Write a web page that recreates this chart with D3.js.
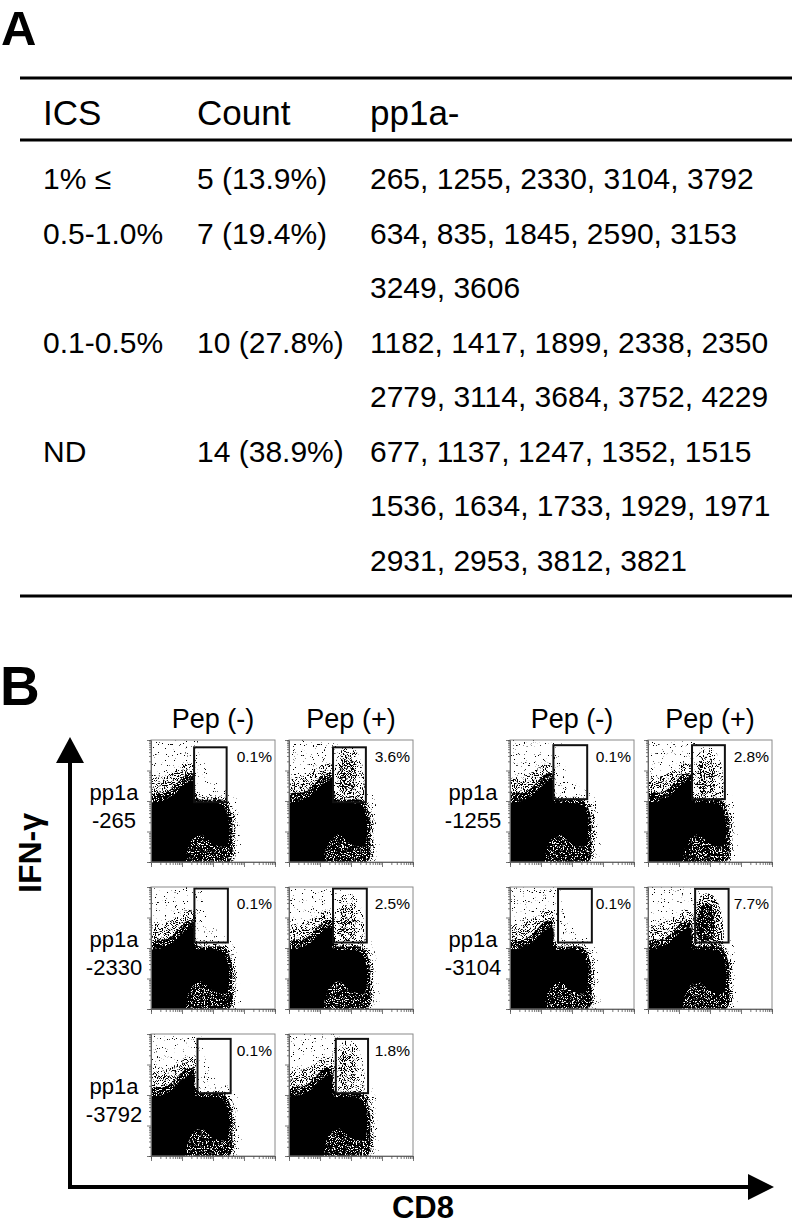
<!DOCTYPE html>
<html>
<head>
<meta charset="utf-8">
<script src="https://cdn.jsdelivr.net/npm/d3@7"></script>
<style>
body { margin: 0; background: #fff; }
svg { display: block; }
text { font-family: "Liberation Sans", Arial, Helvetica, sans-serif; fill: #000; }
</style>
</head>
<body>
<svg id="fig"></svg>
<script>
// ---- panel A : table values ----
var icsGroups = ["1% \u2264", "0.5-1.0%", "0.1-0.5%", "ND"];
var groupCounts = [5, 7, 10, 14];
var groupShares = [13.9, 19.4, 27.8, 38.9];
var groupPeptides = [
    [265, 1255, 2330, 3104, 3792],
    [634, 835, 1845, 2590, 3153, 3249, 3606],
    [1182, 1417, 1899, 2338, 2350, 2779, 3114, 3684, 3752, 4229],
    [677, 1137, 1247, 1352, 1515, 1536, 1634, 1733, 1929, 1971, 2931, 2953, 3812, 3821]
];
var tableHeader = ["ICS", "Count", "pp1a-"];

// ---- panel B : ICS dot plots (axes in log10 decades, 10^0 .. 10^4) ----
var samples = ["265", "1255", "2330", "3104", "3792"];
var pepNegPct = [0.1, 0.1, 0.1, 0.1, 0.1];
var pepPosPct = [3.6, 2.8, 2.5, 7.7, 1.8];
// gates as [x0, x1, y0, y1] in decades
var gateNeg = [[1.39, 2.44, 1.96, 3.76], [1.40, 2.49, 2.06, 3.83], [1.40, 2.48, 2.18, 3.95], [1.55, 2.64, 2.18, 3.94], [1.50, 2.57, 2.06, 3.84]];
var gatePos = [[1.42, 2.48, 1.96, 3.76], [1.42, 2.48, 2.06, 3.83], [1.42, 2.51, 2.18, 3.95], [1.52, 2.60, 2.18, 3.94], [1.51, 2.55, 2.06, 3.84]];
// population outlines [CD8, IFN-g] in decades
var coreOutline = [[0, 0], [0, 1.92], [0.3, 1.98], [0.73, 2.2], [0.95, 2.42], [1.16, 2.6], [1.38, 2.66],
    [1.43, 1.98], [1.91, 1.94], [2.3, 1.87], [2.47, 1.54], [2.52, 1.0], [2.42, 0.52], [2.02, 0.58],
    [1.6, 0.9], [1.28, 0.66], [1.15, 0.26], [1.1, 0]];
var innerHalo = [[0, 0], [0, 2.2], [0.5, 2.3], [0.85, 2.6], [1.1, 2.85], [1.35, 2.9], [1.5, 2.1],
    [2.35, 2.02], [2.58, 1.6], [2.62, 0.8], [2.52, 0]];
var midHalo = [[0, 0], [0, 2.7], [0.4, 2.8], [0.8, 3.0], [1.15, 3.25], [1.42, 3.15], [1.5, 2.2],
    [2.4, 2.1], [2.67, 1.7], [2.72, 0.8], [2.62, 0]];
var outerHalo = [[0, 0], [0, 4], [1.6, 4], [1.7, 3.3], [2.2, 2.5], [2.7, 2.2], [2.85, 1.2], [2.8, 0]];
var ifnCluster = [[1.45, 2.0], [1.45, 2.8], [1.55, 3.4], [1.75, 3.75], [2.05, 3.75], [2.3, 3.4],
    [2.42, 2.8], [2.42, 2.2], [2.25, 1.98]];
var ifnClusterCore = [[1.6, 2.4], [1.6, 3.0], [1.75, 3.4], [1.95, 3.45], [2.1, 3.2], [2.15, 2.7],
    [2.05, 2.3], [1.8, 2.2]];

// where each sample sits: column group and row
var layout = { "265": [0, 0], "2330": [0, 1], "3792": [0, 2], "1255": [1, 0], "3104": [1, 1] };
var plotW = 124, plotH = 122;
var groupLeft = [151, 510], pairGap = 138;
var rowTop = [740, 887, 1034];

var svg = d3.select("#fig").attr("width", 792).attr("height", 1224);
var defs = svg.append("defs");

// ---------- panel A ----------
svg.append("text").attr("x", 1).attr("y", 45)
    .style("font-size", "49px").style("font-weight", "bold").text("A");

var tbl = svg.append("g");
[78, 140, 596].forEach(function(y) {
    tbl.append("line").attr("x1", 20).attr("x2", 792).attr("y1", y).attr("y2", y)
        .attr("stroke", "#000").attr("stroke-width", 3);
});
var colX = [43, 197, 370];
tbl.selectAll("text.head").data(tableHeader).enter().append("text")
    .attr("class", "head").attr("x", function(d, i) { return colX[i]; }).attr("y", 125)
    .style("font-size", "35px").text(function(d) { return d; });

var rowY = d3.scaleLinear().domain([0, 7]).range([189, 571]);
var lineIdx = 0;
groupPeptides.forEach(function(list, i) {
    var lines = [];
    for (var k = 0; k < list.length; k += 5) lines.push(list.slice(k, k + 5));
    lines.forEach(function(ln, j) {
        var y = rowY(lineIdx);
        if (j === 0) {
            tbl.append("text").attr("x", colX[0]).attr("y", y).style("font-size", "30px").text(icsGroups[i]);
            tbl.append("text").attr("x", colX[1]).attr("y", y).style("font-size", "30px")
                .text(groupCounts[i] + " (" + groupShares[i].toFixed(1) + "%)");
        }
        tbl.append("text").attr("x", colX[2]).attr("y", y).style("font-size", "30px").text(ln.join(", "));
        lineIdx++;
    });
});

// ---------- panel B ----------
svg.append("text").attr("x", 0).attr("y", 705)
    .style("font-size", "55px").style("font-weight", "bold").text("B");

var x = d3.scaleLog().domain([1, 1e4]).range([0, plotW]);
var y = d3.scaleLog().domain([1, 1e4]).range([plotH, 0]);
var outline = d3.line()
    .x(function(d) { return x(Math.pow(10, d[0])); })
    .y(function(d) { return y(Math.pow(10, d[1])); })
    .curve(d3.curveCatmullRomClosed.alpha(0.5));

// grainy dot texture for a population outline
var speckle = function(id, seed, thr)
{
    var K = 22;
    var f = defs.append("filter").attr("id", id)
        .attr("x", 0).attr("y", 0).attr("width", 1).attr("height", 1)
        .attr("color-interpolation-filters", "sRGB");
    f.append("feTurbulence").attr("type", "fractalNoise").attr("baseFrequency", 0.9)
        .attr("numOctaves", 1).attr("seed", seed).attr("result", "noise");
    f.append("feColorMatrix").attr("in", "noise").attr("type", "matrix")
        .attr("values", "0 0 0 0 0  0 0 0 0 0  0 0 0 0 0  0 0 0 " + K + " " + (-K * thr))
        .attr("result", "dots");
    f.append("feComposite").attr("in", "dots").attr("in2", "SourceGraphic").attr("operator", "in");
    return "url(#" + id + ")";
};
var clusterThr = d3.scaleLinear().domain([1.8, 7.7]).range([0.6, 0.5]);
var clusterCoreThr = d3.scaleLinear().domain([1.8, 7.7]).range([0.56, 0.43]);

var plotCount = 0;
var drawPlot = function(left, top, gate, pct, positive)
{
    var id = plotCount++;
    var g = svg.append("g").attr("transform", "translate(" + left + "," + top + ")");
    defs.append("clipPath").attr("id", "clip" + id)
        .append("rect").attr("width", plotW).attr("height", plotH);
    g.append("rect").attr("width", plotW).attr("height", plotH).attr("fill", "#fff");

    var pop = g.append("g").attr("clip-path", "url(#clip" + id + ")");
    var layers = [[outerHalo, 0.67], [midHalo, 0.55], [innerHalo, 0.42]];
    if (positive) {
        layers.push([ifnCluster, clusterThr(pct)]);
        layers.push([ifnClusterCore, clusterCoreThr(pct)]);
    }
    layers.forEach(function(l, j) {
        pop.append("path").attr("d", outline(l[0])).attr("fill", "#000")
            .attr("filter", speckle("sp" + id + "_" + j, id * 7 + j + 1, l[1]));
    });
    pop.append("path").attr("d", outline(coreOutline)).attr("fill", "#000");

    g.append("rect")
        .attr("x", x(Math.pow(10, gate[0]))).attr("y", y(Math.pow(10, gate[3])))
        .attr("width", x(Math.pow(10, gate[1])) - x(Math.pow(10, gate[0])))
        .attr("height", y(Math.pow(10, gate[2])) - y(Math.pow(10, gate[3])))
        .attr("fill", "none").attr("stroke", "#111").attr("stroke-width", 2);

    g.append("rect").attr("width", plotW).attr("height", plotH)
        .attr("fill", "none").attr("stroke", "#8a8a8a").attr("stroke-width", 1);

    var xa = g.append("g").attr("transform", "translate(0," + plotH + ")")
        .call(d3.axisBottom(x).tickValues(x.ticks()).tickSize(3).tickFormat(""));
    var ya = g.append("g")
        .call(d3.axisLeft(y).tickValues(y.ticks()).tickSize(2).tickFormat(""));
    [xa, ya].forEach(function(a) {
        a.select(".domain").attr("stroke", "#666");
        a.selectAll(".tick line").attr("stroke", "#555").attr("stroke-width", 0.8)
            .filter(function(d) { return Math.log10(d) % 1 === 0; })
            .attr(a === xa ? "y2" : "x2", a === xa ? 5 : -4);
    });

    g.append("text").attr("x", plotW - 3).attr("y", 22).attr("text-anchor", "end")
        .style("font-size", "15.5px").text(pct.toFixed(1) + "%");
};

samples.forEach(function(s, i) {
    var pos = layout[s];
    var left = groupLeft[pos[0]], top = rowTop[pos[1]];
    drawPlot(left, top, gateNeg[i], pepNegPct[i], false);
    drawPlot(left + pairGap, top, gatePos[i], pepPosPct[i], true);
    var lbl = svg.append("text").attr("text-anchor", "middle").style("font-size", "22px");
    lbl.append("tspan").attr("x", left - 37).attr("y", top + 60).text("pp1a");
    lbl.append("tspan").attr("x", left - 37).attr("y", top + 88).text("-" + s);
});

// column headers
groupLeft.forEach(function(left) {
    ["Pep (-)", "Pep (+)"].forEach(function(h, j) {
        svg.append("text").attr("x", left + j * pairGap + plotW / 2).attr("y", 728)
            .attr("text-anchor", "middle").style("font-size", "27px").text(h);
    });
});

// axis arrows
var arrows = svg.append("g");
arrows.append("line").attr("x1", 70).attr("y1", 1189).attr("x2", 70).attr("y2", 758)
    .attr("stroke", "#000").attr("stroke-width", 4);
arrows.append("path").attr("d", "M70,737L56,763L84,763Z").attr("fill", "#000");
arrows.append("line").attr("x1", 68).attr("y1", 1187).attr("x2", 752).attr("y2", 1187)
    .attr("stroke", "#000").attr("stroke-width", 4);
arrows.append("path").attr("d", "M774,1187L748,1174L748,1200Z").attr("fill", "#000");

svg.append("text").attr("transform", "translate(41,853) rotate(-90)")
    .attr("text-anchor", "middle").style("font-size", "32px").style("font-weight", "bold").text("IFN-\u03b3");
svg.append("text").attr("x", 423).attr("y", 1218)
    .attr("text-anchor", "middle").style("font-size", "31px").style("font-weight", "bold").text("CD8");
</script>
</body>
</html>
